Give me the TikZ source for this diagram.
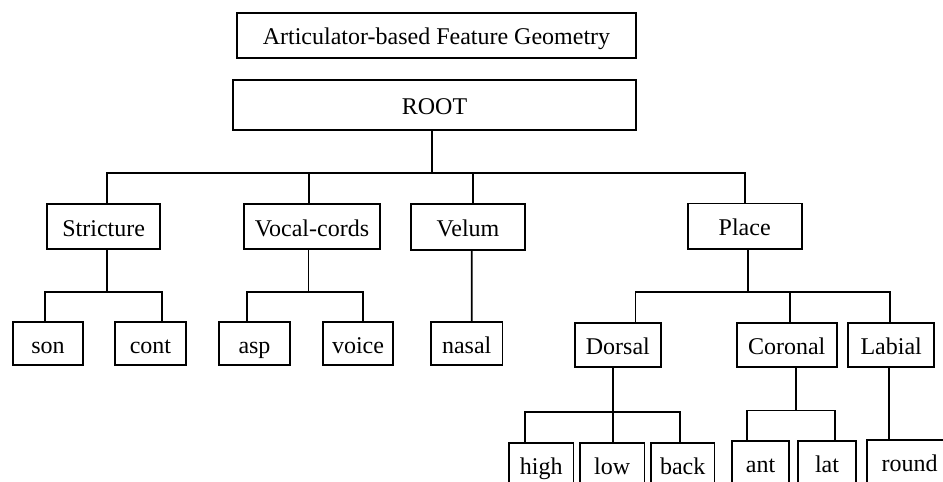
\documentclass[tikz,border=0pt]{standalone}
\usepackage{fontspec}
\setmainfont{Liberation Serif}

\begin{document}
\begin{tikzpicture}[x=0.5pt,y=-0.5pt]
	\tikzset{feat/.style={draw, rectangle, line width=0.9pt, inner sep=0, text height=11.5pt, text depth=2pt, font=\fontsize{12}{14}\selectfont}}
	\tikzset{ln/.style={draw, line width=0.9pt}}
	\useasboundingbox (0,0) rectangle (943,482);
	\clip (0,0) rectangle (943,482);
	% boxes
	\node[feat, minimum width=199.5pt, minimum height=22.5pt] at (436.5,35.2) (title) {Articulator-based Feature Geometry};
	\node[feat, minimum width=201.5pt, minimum height=25pt] at (434.5,105) (root) {ROOT};
	\node[feat, minimum width=56.4pt, minimum height=22.5pt] at (103.7,226.8) (stricture) {Stricture};
	\node[feat, minimum width=68pt, minimum height=22.5pt] at (312,226.8) (vocal) {Vocal-cords};
	\node[feat, minimum width=57pt, minimum height=23pt] at (468,227) (velum) {Velum};
	\node[feat, minimum width=57pt, minimum height=22.8pt] at (744.7,226.2) (place) {Place};
	\node[feat, minimum width=35.3pt, minimum height=21.4pt] at (48,343.7) (son) {son};
	\node[feat, minimum width=35.5pt, minimum height=21.4pt] at (150.5,343.7) (cont) {cont};
	\node[feat, minimum width=35.5pt, minimum height=21.4pt] at (254.5,343.7) (asp) {asp};
	\node[feat, minimum width=35.3pt, minimum height=21.4pt] at (358,343.7) (voice) {voice};
	\node[feat, minimum width=35.7pt, minimum height=21.4pt] at (466.7,343.7) (nasal) {nasal};
	\node[feat, minimum width=42.9pt, minimum height=22pt] at (617.9,344.7) (dorsal) {Dorsal};
	\node[feat, minimum width=50pt, minimum height=22pt] at (786.7,344.7) (coronal) {Coronal};
	\node[feat, minimum width=42.9pt, minimum height=22pt] at (891.2,344.7) (labial) {Labial};
	\node[feat, minimum width=32.2pt, minimum height=22pt] at (541.2,464.7) (high) {high};
	\node[feat, minimum width=32.2pt, minimum height=22pt] at (612.2,464.7) (low) {low};
	\node[feat, minimum width=31.7pt, minimum height=22pt] at (682.7,464.7) (back) {back};
	\node[feat, minimum width=28.8pt, minimum height=22pt] at (760.5,463) (ant) {ant};
	\node[feat, minimum width=28.8pt, minimum height=22pt] at (827,463) (lat) {lat};
	\node[feat, minimum width=43pt, minimum height=22pt] at (909.7,462) (round) {round};
	% joints on the bars
	\coordinate (root-j) at (432,172.7);
	\coordinate (str-j) at (106.7,292.3);
	\coordinate (voc-j) at (308.5,292.3);
	\coordinate (pla-j) at (748.3,292.3);
	\coordinate (dor-j) at (612.7,411.7);
	\coordinate (cor-j) at (796,410.5);
	% root
	\draw[ln] (root.south -| root-j) -- (root-j);
	\draw[ln] ([xshift=1.5pt]stricture.north) |- (root-j);
	\draw[ln] ([xshift=-1.35pt]vocal.north) |- (root-j);
	\draw[ln] ([xshift=2.35pt]velum.north) |- (root-j);
	\draw[ln] (place.north) |- (root-j);
	% stricture, vocal-cords, velum
	\draw[ln] (stricture.south -| str-j) -- (str-j);
	\draw[ln] ([xshift=-1.5pt]son.north) |- (str-j);
	\draw[ln] ([xshift=5.9pt]cont.north) |- (str-j);
	\draw[ln] (vocal.south -| voc-j) -- (voc-j);
	\draw[ln] ([xshift=-3.9pt]asp.north) |- (voc-j);
	\draw[ln] ([xshift=2.65pt]voice.north) |- (voc-j);
	\draw[ln] ([xshift=2.5pt]nasal.north) -- ([xshift=1.85pt]velum.south);
	% place
	\draw[ln] (place.south -| pla-j) -- (pla-j);
	\draw[ln] ([xshift=8.8pt]dorsal.north) |- (pla-j);
	\draw[ln] ([xshift=1.5pt]coronal.north) |- (pla-j);
	\draw[ln] ([xshift=-0.6pt]labial.north) |- (pla-j);
	\draw[ln] (dorsal.south -| dor-j) -- (dor-j);
	\draw[ln] ([xshift=-8.1pt]high.north) |- (dor-j);
	\draw[ln] (low.north -| dor-j) -- (dor-j);
	\draw[ln] ([xshift=-1.35pt]back.north) |- (dor-j);
	\draw[ln] (coronal.south -| cor-j) -- (cor-j);
	\draw[ln] ([xshift=-6.9pt]ant.north) |- (cor-j);
	\draw[ln] ([xshift=4pt]lat.north) |- (cor-j);
	\draw[ln] ([xshift=-10.35pt]round.north) -- ([xshift=-1.1pt]labial.south);
\end{tikzpicture}
\end{document}
